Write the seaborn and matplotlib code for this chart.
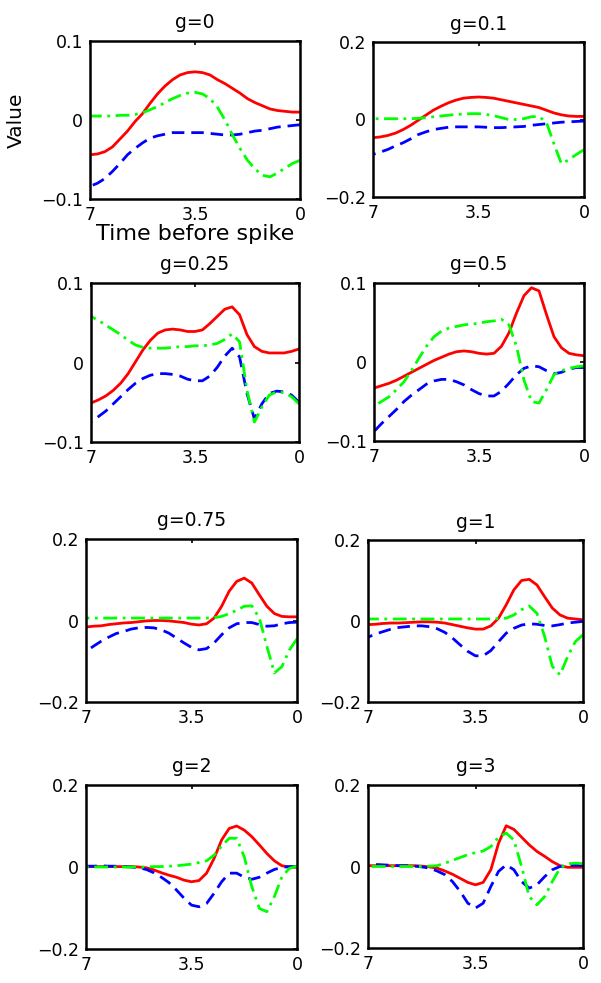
import numpy as np
import pandas as pd
import matplotlib
matplotlib.use("Agg")
import matplotlib.pyplot as plt
import seaborn as sns

# time before spike, read from 7 down to 0 in steps of 0.25
t = np.linspace(7, 0, 29)

red_g0 = [-0.044, -0.043, -0.040, -0.034, -0.024, -0.014, -0.002, 0.008, 0.021, 0.033, 0.043, 0.051, 0.057, 0.060, 0.061,
          0.060, 0.057, 0.051, 0.046, 0.040, 0.034, 0.027, 0.022, 0.018, 0.014, 0.012, 0.011, 0.010, 0.010]
blue_g0 = [-0.084, -0.080, -0.074, -0.065, -0.055, -0.044, -0.036, -0.029, -0.023, -0.020, -0.018, -0.016, -0.016, -0.016, -0.016,
           -0.016, -0.017, -0.018, -0.019, -0.019, -0.018, -0.016, -0.014, -0.013, -0.011, -0.009, -0.008, -0.007, -0.006]
green_g0 = [0.005, 0.005, 0.005, 0.005, 0.006, 0.006, 0.007, 0.009, 0.013, 0.017, 0.022, 0.027, 0.031, 0.034, 0.035,
            0.033, 0.027, 0.016, 0.000, -0.019, -0.036, -0.051, -0.062, -0.070, -0.072, -0.067, -0.061, -0.055, -0.051]

red_g01 = [-0.047, -0.045, -0.041, -0.035, -0.026, -0.015, -0.002, 0.011, 0.024, 0.034, 0.043, 0.050, 0.055, 0.057, 0.058,
           0.057, 0.055, 0.051, 0.047, 0.043, 0.039, 0.035, 0.031, 0.024, 0.017, 0.012, 0.009, 0.008, 0.008]
blue_g01 = [-0.090, -0.084, -0.077, -0.068, -0.060, -0.050, -0.039, -0.032, -0.026, -0.023, -0.020, -0.019, -0.019, -0.019, -0.019,
            -0.020, -0.021, -0.021, -0.020, -0.019, -0.018, -0.015, -0.013, -0.011, -0.009, -0.007, -0.006, -0.005, -0.004]
green_g01 = [0.002, 0.002, 0.002, 0.002, 0.002, 0.002, 0.003, 0.005, 0.007, 0.009, 0.011, 0.013, 0.014, 0.015, 0.015,
             0.013, 0.010, 0.005, 0.000, 0.000, 0.002, 0.007, 0.008, -0.007, -0.062, -0.114, -0.104, -0.090, -0.078]

red_g025 = [-0.051, -0.047, -0.042, -0.035, -0.026, -0.014, 0.001, 0.016, 0.028, 0.037, 0.041, 0.042, 0.041, 0.039, 0.039,
            0.041, 0.049, 0.058, 0.067, 0.070, 0.060, 0.035, 0.020, 0.014, 0.012, 0.012, 0.012, 0.014, 0.017]
blue_g025 = [-0.075, -0.068, -0.061, -0.052, -0.043, -0.034, -0.026, -0.020, -0.016, -0.014, -0.014, -0.015, -0.017, -0.021, -0.023,
             -0.023, -0.017, -0.006, 0.008, 0.018, 0.007, -0.039, -0.071, -0.052, -0.039, -0.036, -0.037, -0.041, -0.050]
green_g025 = [0.058, 0.053, 0.047, 0.041, 0.035, 0.028, 0.022, 0.019, 0.018, 0.018, 0.018, 0.019, 0.020, 0.020, 0.021,
              0.021, 0.022, 0.024, 0.029, 0.036, 0.026, -0.035, -0.075, -0.056, -0.041, -0.037, -0.038, -0.043, -0.052]

red_g05 = [-0.033, -0.030, -0.027, -0.023, -0.018, -0.013, -0.008, -0.003, 0.002, 0.006, 0.010, 0.013, 0.014, 0.013, 0.011,
           0.010, 0.011, 0.020, 0.037, 0.062, 0.084, 0.094, 0.090, 0.060, 0.032, 0.018, 0.011, 0.009, 0.008]
blue_g05 = [-0.088, -0.078, -0.069, -0.060, -0.050, -0.042, -0.035, -0.028, -0.024, -0.022, -0.022, -0.025, -0.029, -0.035, -0.040,
            -0.043, -0.043, -0.037, -0.027, -0.016, -0.008, -0.005, -0.006, -0.011, -0.015, -0.013, -0.009, -0.007, -0.007]
green_g05 = [-0.056, -0.050, -0.044, -0.035, -0.025, -0.011, 0.005, 0.020, 0.032, 0.039, 0.043, 0.045, 0.047, 0.048, 0.049,
             0.051, 0.052, 0.054, 0.047, 0.020, -0.023, -0.050, -0.052, -0.035, -0.016, -0.011, -0.008, -0.006, -0.005]

red_g075 = [-0.016, -0.014, -0.013, -0.010, -0.008, -0.006, -0.005, -0.003, -0.001, 0.000, 0.000, -0.001, -0.003, -0.005, -0.009,
            -0.011, -0.008, 0.006, 0.035, 0.072, 0.096, 0.104, 0.092, 0.063, 0.035, 0.017, 0.010, 0.009, 0.009]
blue_g075 = [-0.076, -0.063, -0.051, -0.041, -0.032, -0.027, -0.021, -0.018, -0.017, -0.018, -0.023, -0.031, -0.043, -0.055, -0.066,
             -0.072, -0.069, -0.055, -0.035, -0.018, -0.008, -0.005, -0.005, -0.010, -0.014, -0.013, -0.008, -0.005, -0.004]
green_g075 = [0.006, 0.006, 0.006, 0.006, 0.006, 0.006, 0.006, 0.006, 0.006, 0.006, 0.006, 0.006, 0.006, 0.006, 0.006,
              0.006, 0.006, 0.007, 0.010, 0.017, 0.025, 0.035, 0.036, 0.006, -0.063, -0.129, -0.113, -0.072, -0.045]

red_g1 = [-0.009, -0.008, -0.006, -0.005, -0.005, -0.004, -0.003, -0.002, -0.002, -0.003, -0.005, -0.009, -0.013, -0.017, -0.020,
          -0.020, -0.012, 0.007, 0.040, 0.077, 0.100, 0.103, 0.089, 0.060, 0.032, 0.015, 0.007, 0.005, 0.003]
blue_g1 = [-0.040, -0.032, -0.026, -0.020, -0.016, -0.014, -0.012, -0.012, -0.014, -0.019, -0.028, -0.042, -0.059, -0.075, -0.086,
           -0.086, -0.073, -0.051, -0.030, -0.018, -0.010, -0.007, -0.008, -0.011, -0.012, -0.009, -0.005, -0.003, -0.001]
green_g1 = [0.005, 0.005, 0.005, 0.005, 0.005, 0.005, 0.005, 0.005, 0.005, 0.005, 0.005, 0.005, 0.005, 0.005, 0.005,
            0.005, 0.005, 0.006, 0.007, 0.015, 0.028, 0.037, 0.019, -0.038, -0.112, -0.133, -0.088, -0.051, -0.034]

red_g2 = [0.001, 0.001, 0.001, 0.001, 0.001, 0.001, 0.001, 0.000, -0.002, -0.007, -0.014, -0.020, -0.025, -0.032, -0.036,
          -0.033, -0.015, 0.021, 0.066, 0.094, 0.100, 0.090, 0.074, 0.054, 0.033, 0.015, 0.003, 0.000, -0.001]
blue_g2 = [0.002, 0.002, 0.003, 0.002, 0.002, 0.001, 0.000, -0.002, -0.006, -0.014, -0.025, -0.038, -0.056, -0.076, -0.093,
           -0.097, -0.089, -0.064, -0.036, -0.015, -0.015, -0.025, -0.030, -0.025, -0.015, -0.006, -0.001, 0.001, 0.001]
green_g2 = [0.000, 0.000, 0.000, 0.000, 0.000, 0.000, 0.000, 0.000, 0.000, 0.001, 0.001, 0.002, 0.003, 0.005, 0.007,
            0.011, 0.015, 0.029, 0.051, 0.070, 0.070, 0.025, -0.048, -0.101, -0.109, -0.072, -0.024, -0.003, 0.002]

red_g3 = [0.002, 0.002, 0.002, 0.002, 0.002, 0.002, 0.002, 0.001, -0.001, -0.004, -0.011, -0.019, -0.029, -0.039, -0.045,
          -0.039, -0.008, 0.057, 0.100, 0.091, 0.072, 0.053, 0.037, 0.025, 0.012, 0.002, -0.002, -0.002, -0.002]
blue_g3 = [0.004, 0.005, 0.004, 0.003, 0.002, 0.002, 0.001, -0.001, -0.004, -0.011, -0.020, -0.037, -0.061, -0.090, -0.102,
           -0.090, -0.049, -0.012, 0.004, -0.008, -0.037, -0.053, -0.045, -0.025, -0.008, 0.000, 0.002, 0.003, 0.002]
green_g3 = [0.000, 0.000, 0.000, 0.000, 0.000, 0.000, 0.000, 0.000, 0.001, 0.002, 0.008, 0.015, 0.022, 0.029, 0.034,
            0.038, 0.049, 0.072, 0.082, 0.065, 0.000, -0.074, -0.094, -0.074, -0.037, -0.004, 0.007, 0.008, 0.007]

titles = ["g=0", "g=0.1", "g=0.25", "g=0.5", "g=0.75", "g=1", "g=2", "g=3"]
red = [red_g0, red_g01, red_g025, red_g05, red_g075, red_g1, red_g2, red_g3]
blue = [blue_g0, blue_g01, blue_g025, blue_g05, blue_g075, blue_g1, blue_g2, blue_g3]
green = [green_g0, green_g01, green_g025, green_g05, green_g075, green_g1, green_g2, green_g3]
ylims = [0.1, 0.2, 0.1, 0.1, 0.2, 0.2, 0.2, 0.2]

# axes boxes in pixels: left, right, top, bottom
boxes = [(90, 300, 41, 199), (373, 584, 42, 197),
         (91, 299, 283, 442), (374, 584, 283, 441),
         (86, 297, 539, 702), (368, 583, 540, 702),
         (86, 297, 785, 949), (368, 583, 785, 948)]

sns.set_style("white")
plt.rcParams["font.family"] = ["DejaVu Sans"]
plt.rcParams["axes.unicode_minus"] = True
plt.rcParams["text.color"] = "black"
plt.rcParams["axes.labelcolor"] = "black"

W, H = 601, 983
fig = plt.figure(figsize=(W / 100, H / 100), dpi=100)

for i, title in enumerate(titles):
    l, r, tp, b = boxes[i]
    ax = fig.add_axes([l / W, 1 - b / H, (r - l) / W, (b - tp) / H])
    df = pd.DataFrame({"t": t, "red": red[i], "blue": blue[i], "green": green[i]})
    sns.lineplot(data=df, x="t", y="red", ax=ax, color="#ff0000", lw=2)
    sns.lineplot(data=df, x="t", y="blue", ax=ax, color="#0000ff", lw=2, linestyle=(0, (4.5, 2.5)))
    sns.lineplot(data=df, x="t", y="green", ax=ax, color="#00ff00", lw=2, linestyle=(0, (5, 2, 1, 2)))
    ax.set_xlim(7, 0)
    lim = ylims[i]
    ax.set_ylim(-lim, lim)
    ax.set_xticks([7, 3.5, 0])
    ax.set_xticklabels(["7", "3.5", "0"])
    ax.set_yticks([-lim, 0, lim])
    ax.set_yticklabels(["\u2212%g" % lim, "0", "%g" % lim])
    ax.tick_params(direction="in", length=3, width=1.2, top=True, right=True,
                   labelsize=12.5, pad=5, colors="black")
    for sp in ax.spines.values():
        sp.set_linewidth(1.8)
        sp.set_color("black")
    ax.set_title(title, fontsize=13.5, pad=9, color="black")
    if i == 0:
        ax.set_xlabel("Time before spike", fontsize=16, labelpad=0)
        ax.set_ylabel("Value", fontsize=14.5, labelpad=11)
    else:
        ax.set_xlabel("")
        ax.set_ylabel("")

fig.savefig("out.png", dpi=100)
